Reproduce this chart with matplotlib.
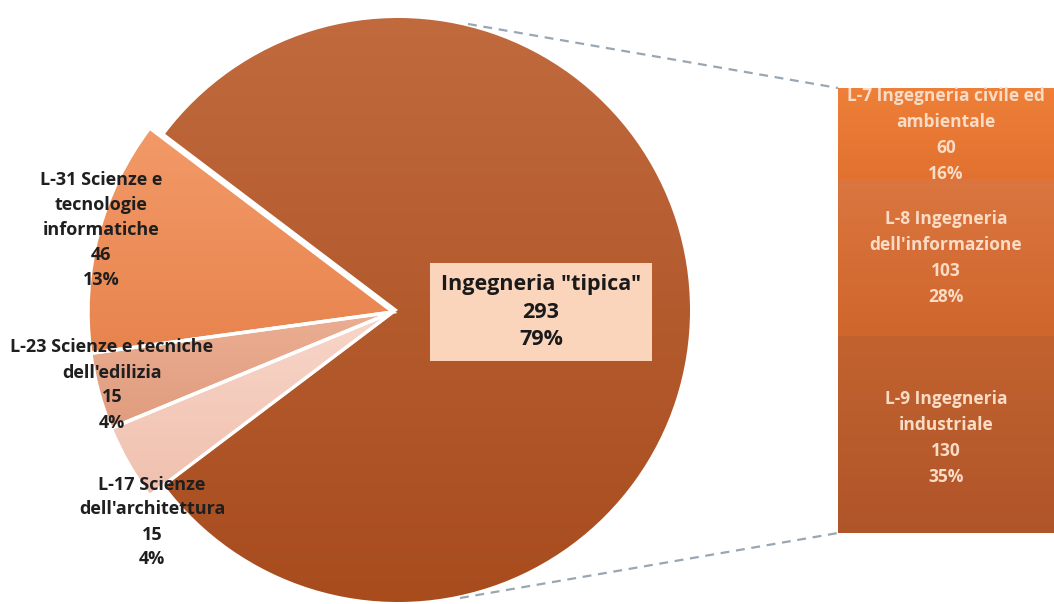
import matplotlib
matplotlib.use("Agg")
import matplotlib.pyplot as plt
import numpy as np
from matplotlib.colors import LinearSegmentedColormap

# ---- data ----
pie_labels = ["L-31 Scienze e\ntecnologie\ninformatiche", "L-23 Scienze e tecniche\ndell'edilizia",
              "L-17 Scienze\ndell'architettura", "Ingegneria \"tipica\""]
pie_values = [46, 15, 15, 293]
pie_pcts = ["13%", "4%", "4%", "79%"]

bar_labels = ["L-9 Ingegneria\nindustriale", "L-8 Ingegneria\ndell'informazione",
              "L-7 Ingegneria civile ed\nambientale"]
bar_values = [130, 103, 60]
bar_pcts = ["35%", "28%", "16%"]

# ---- style ----
pie_grad = [("#F29A68", "#E8844E"), ("#EBAE92", "#E09C7E"), ("#F8D6C9", "#F0C0AE"), ("#C06A3E", "#A84C1E")]
bar_grad = [("#C2632F", "#B0552A"), ("#DB7640", "#CF662C"), ("#EE8039", "#E2712F")]

W, H = 1054, 604
fig = plt.figure(figsize=(W / 100, H / 100), dpi=100)
ax = fig.add_axes([0, 0, 1, 1])

def Y(yi):
    return H - yi

font = ["Open Sans", "DejaVu Sans"]

def grad_fill(axis, patch, c_top, c_bot, z):
    bb = patch.get_path().transformed(patch.get_patch_transform()).get_extents()
    cmap = LinearSegmentedColormap.from_list("g", [c_bot, c_top])
    g = np.linspace(0, 1, 256).reshape(-1, 1)
    im = axis.imshow(g, extent=[bb.x0, bb.x1, bb.y0, bb.y1], origin="lower", cmap=cmap,
                     aspect="auto", zorder=z, interpolation="bilinear")
    im.set_clip_path(patch)

start = 142.9
# big slice
w_big, _ = ax.pie(pie_values, startangle=start, counterclock=True, radius=292,
                  center=(398, Y(310)), colors=[c[1] for c in pie_grad],
                  wedgeprops=dict(edgecolor="white", linewidth=0))
# small slices
w_small, _ = ax.pie(pie_values, startangle=start, counterclock=True, radius=305,
                    center=(393, Y(312)), colors=[c[1] for c in pie_grad],
                    wedgeprops=dict(edgecolor="white", linewidth=2.5))
for i, w in enumerate(w_big):
    if i < 3:
        w.set_visible(False)
    else:
        w.set_facecolor("none")
        w.set_zorder(3)
        grad_fill(ax, w, pie_grad[i][0], pie_grad[i][1], 2)
for i, w in enumerate(w_small):
    if i == 3:
        w.set_visible(False)
    else:
        w.set_facecolor("none")
        w.set_zorder(3)
        grad_fill(ax, w, pie_grad[i][0], pie_grad[i][1], 2)

# pie labels
label_pos = [(101, 230), (112, 385), (152, 522)]
for i in range(3):
    ax.text(label_pos[i][0], Y(label_pos[i][1]),
            f"{pie_labels[i]}\n{pie_values[i]}\n{pie_pcts[i]}",
            ha="center", va="center", fontsize=13, fontweight="bold", color="#1F1F1F",
            family=font, linespacing=1.5, zorder=5)
ax.text(541, Y(312), f"{pie_labels[3]}\n{pie_values[3]}\n{pie_pcts[3]}",
        ha="center", va="center", fontsize=15.5, fontweight="bold", color="#1A1A1A",
        family=font, linespacing=1.42, zorder=5,
        bbox=dict(boxstyle="square,pad=0.5", facecolor="#FBD4BC", edgecolor="none"))

# connector lines
ax.plot([468, 838], [Y(24), Y(88)], color="#9AA6B2", lw=1.6, ls=(0, (4, 3)), zorder=1)
ax.plot([460, 838], [Y(598), Y(533)], color="#9AA6B2", lw=1.6, ls=(0, (4, 3)), zorder=1)

ax.set_xlim(0, W)
ax.set_ylim(0, H)
ax.axis("off")

# bar
bx = fig.add_axes([838 / W, (H - 533) / H, 216 / W, 445 / H])
bottoms = np.concatenate([[0], np.cumsum(bar_values)[:-1]])
patches = []
for i in range(3):
    b = bx.bar([0], [bar_values[i]], width=1, bottom=bottoms[i], color="none", edgecolor="none", zorder=3)
    patches.append(b.patches[0])
for i, p in enumerate(patches):
    x0, y0 = p.get_x(), p.get_y()
    cmap = LinearSegmentedColormap.from_list("g", [bar_grad[i][1], bar_grad[i][0]])
    g = np.linspace(0, 1, 256).reshape(-1, 1)
    im = bx.imshow(g, extent=[x0, x0 + p.get_width(), y0, y0 + p.get_height()], origin="lower",
                   cmap=cmap, aspect="auto", zorder=2, interpolation="bilinear")
    im.set_clip_path(p)
bx.set_xlim(-0.5, 0.5)
bx.set_ylim(0, sum(bar_values))
bx.axis("off")

bar_label_y = [438, 258, 135]
for i in range(3):
    ax.text(946, Y(bar_label_y[i]), f"{bar_labels[i]}\n{bar_values[i]}\n{bar_pcts[i]}",
            ha="center", va="center", fontsize=12.5, fontweight="bold", color="#FADCC6",
            family=font, linespacing=1.58, zorder=6)
ax.set_zorder(bx.get_zorder() + 1)
ax.patch.set_visible(False)

fig.savefig("out.png", dpi=100)
